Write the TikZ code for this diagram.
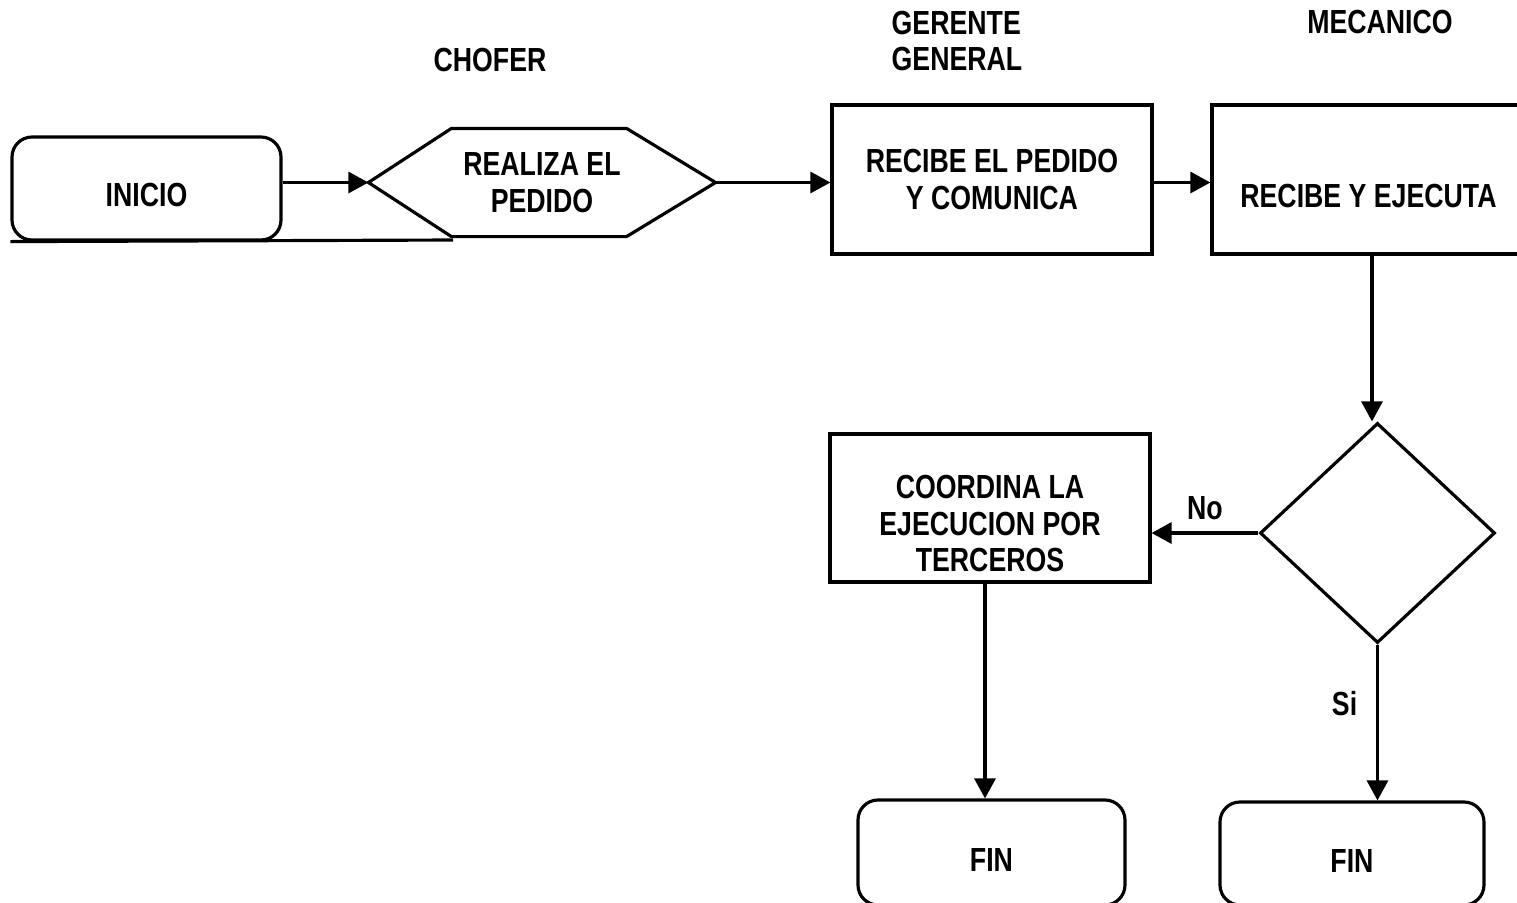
\documentclass[tikz,border=0pt]{standalone}
\usepackage{fontspec}
\setmainfont[FakeStretch=0.8]{Liberation Sans}
\usetikzlibrary{arrows.meta,shapes.geometric}
\newcommand{\bajar}[2]{\raisebox{-#1}[\height][\depth]{\begin{tabular}{@{}c@{}}#2\end{tabular}}}
\begin{document}
\begin{tikzpicture}[line width=0.9pt, >={Triangle[length=2mm,width=2.1mm]},
   caja/.style={draw, rectangle, minimum width=3.2cm, minimum height=1.49cm, align=center},
   terminal/.style={draw, rectangle, rounded corners=0.2cm, align=center},
   flecha/.style={->}]
   \useasboundingbox (0,0) rectangle (15.17,9.02);
   \begin{scope}[every node/.style={font=\fontsize{9.5}{10.4}\selectfont\bfseries}]
    % encabezados
    \node (chofer) at (4.90,8.42) {CHOFER};
    \node[align=left] (gerencia) at (9.57,8.61) {GERENTE\\GENERAL};
    \node (mecanico) at (13.80,8.80) {MECANICO};

    \node[terminal, minimum width=2.69cm, minimum height=1.03cm] (inicio) at (1.465,7.135) {\bajar{1.05mm}{INICIO}};
    \node[minimum width=3.44cm, minimum height=1.05cm, inner sep=0pt, align=center] (pedido) at (5.42,7.195) {REALIZA EL\\PEDIDO};
    \node[caja] (comunica) at (9.92,7.225) {RECIBE EL PEDIDO\\Y COMUNICA};
    \node[caja, minimum width=3.13cm] (ejecuta) at (13.685,7.225) {\bajar{2.05mm}{RECIBE Y EJECUTA}};
    \node[draw, diamond, minimum width=2.35cm, minimum height=2.2cm, inner sep=0pt] (decide) at (13.775,3.69) {};
    \node[caja, minimum height=1.48cm] (terceros) at (9.90,3.94) {\bajar{2.0mm}{COORDINA LA\\EJECUCION POR\\TERCEROS}};
    \node[terminal, minimum width=2.67cm, minimum height=1.05cm] (fin1) at (9.915,0.495) {\bajar{1.15mm}{FIN}};
    \node[terminal, minimum width=2.64cm, minimum height=1.03cm] (fin2) at (13.52,0.485) {\bajar{1.2mm}{FIN}};
    \coordinate (raya) at (4.53,6.62);
   \end{scope}
   % hexagono del pedido
   \draw (pedido.west) -- ([xshift=0.83cm]pedido.north west) -- ([xshift=-0.89cm]pedido.north east)
      -- (pedido.east) -- ([xshift=-0.89cm]pedido.south east) -- ([xshift=0.83cm]pedido.south west) -- cycle;
   \begin{scope}[every node/.style={font=\fontsize{9.5}{10.4}\selectfont\bfseries}]
    \draw (inicio.south west) -- (raya);
    \draw[flecha] (inicio.east |- pedido.west) -- (pedido.west);
    \draw[flecha] (pedido.east) -- (pedido.east -| comunica.west);
    \draw[flecha] (comunica.east |- pedido.east) -- (ejecuta.west |- pedido.east);
    \draw[flecha] (ejecuta.south -| 13.72,0) -- (decide.north -| 13.72,0);
    \draw[flecha] (decide.west) -- node[above=0pt]{No} (terceros.east |- decide.west);
    \draw[flecha] (decide.south) -- node[pos=0.38, left=2pt]{Si} (fin2.north -| decide.south);
    \draw[flecha] (terceros.south -| 9.85,0) -- (fin1.north -| 9.85,0);
   \end{scope}
\end{tikzpicture}
\end{document}
